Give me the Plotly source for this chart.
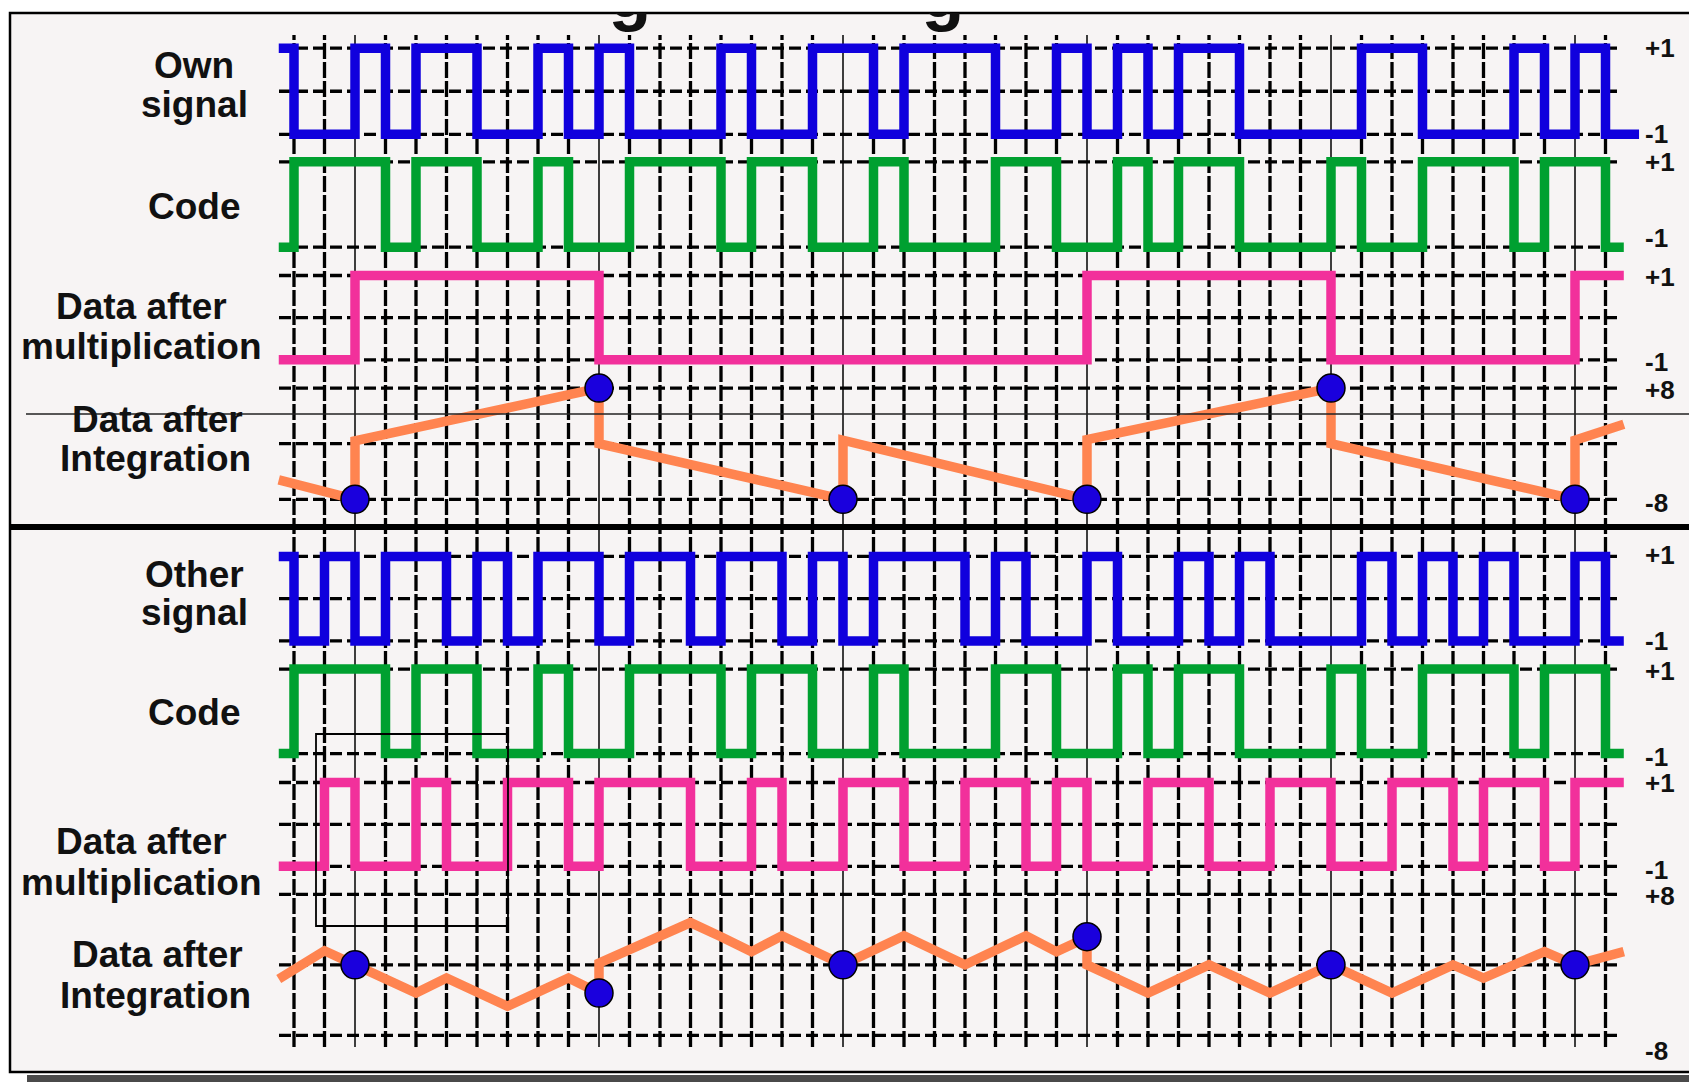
import plotly.graph_objects as go

# ---------------- data ----------------
# chip -1 is the partial lead-in chip; boundaries of chips are the grid columns 0..43
chip_start = [-0.5, 0, 1, 2, 3, 4, 5, 6, 7, 8, 9, 10, 11, 12, 13, 14, 15, 16, 17, 18, 19, 20,
              21, 22, 23, 24, 25, 26, 27, 28, 29, 30, 31, 32, 33, 34, 35, 36, 37, 38, 39, 40,
              41, 42, 43]
chip_end_own = 44.1
chip_end = 43.6

own_signal = [1, -1, -1, 1, -1, 1, 1, -1, -1, 1, -1, 1, -1, -1, -1, 1, -1, -1, 1, 1, -1, 1, 1, 1,
              -1, -1, 1, -1, 1, -1, 1, 1, -1, -1, -1, -1, 1, 1, -1, -1, -1, 1, -1, 1, -1]
code_chips = [-1, 1, 1, 1, -1, 1, 1, -1, -1, 1, -1, -1, 1, 1, 1, -1, 1, 1, -1, -1, 1, -1, -1, -1,
              1, 1, -1, -1, 1, -1, 1, 1, -1, -1, -1, 1, -1, -1, 1, 1, 1, -1, 1, 1, -1]
data_own = [-1, -1, -1, 1, 1, 1, 1, 1, 1, 1, 1, -1, -1, -1, -1, -1, -1, -1, -1, -1, -1, -1, -1,
            -1, -1, -1, -1, 1, 1, 1, 1, 1, 1, 1, 1, -1, -1, -1, -1, -1, -1, -1, -1, 1, 1]
other_signal = [1, -1, 1, -1, 1, 1, -1, 1, -1, 1, 1, -1, 1, 1, -1, 1, 1, -1, 1, -1, 1, 1, 1, -1,
                1, -1, -1, 1, -1, -1, 1, -1, 1, -1, -1, -1, 1, -1, 1, -1, 1, -1, -1, 1, -1]
data_other = [-1, -1, 1, -1, -1, 1, -1, -1, 1, 1, -1, 1, 1, 1, -1, -1, 1, -1, -1, 1, 1, -1, -1, 1,
              1, -1, 1, -1, -1, 1, 1, -1, -1, 1, 1, -1, -1, 1, 1, -1, 1, 1, -1, 1, 1]

integ_own_x = [-0.5, 2, 2, 10, 10, 18, 18, 26, 26, 34, 34, 42, 42, 43.6]
integ_own_y = [-5.2, -8, 0.4, 8, 0, -8, 0.5, -8, 0.6, 8, 0, -8, 0.5, 2.8]
integ_other_x = [-0.5, 1, 2, 4, 5, 7, 9, 10, 10, 13, 14, 15, 16, 18, 20, 22, 24, 25, 26, 26,
                 28, 30, 32, 34, 36, 38, 39, 41, 42, 43.6]
integ_other_y = [-1.6, 1.6, 0, -3.2, -1.5, -4.7, -1.5, -3.2, 0.2, 4.8, 3.2, 1.5, 3.3, 0, 3.3, 0,
                 3.3, 1.5, 3.1, 0, -3.2, 0, -3.2, 0, -3.2, 0, -1.5, 1.5, 0, 1.5]
bit_edges = [2, 10, 18, 26, 34, 42]
sample_own = [-8, 8, -8, -8, 8, -8]
sample_other = [0, -3.2, 0, 3.2, 0, 0]

labels_top = [["Own", "signal"], ["Code"], ["Data after", "multiplication"], ["Data after", "Integration"]]
labels_bottom = [["Other", "signal"], ["Code"], ["Data after", "multiplication"], ["Data after", "Integration"]]
level_text = [["+1", "-1"], ["+1", "-1"], ["+1", "-1"], ["+8", "-8"],
              ["+1", "-1"], ["+1", "-1"], ["+1", "-1"], ["+8", "-8"]]
title_fragments = ["g", "g"]

# ---------------- layout constants ----------------
W, H = 1697, 1082              # window
OFF = 8                        # page body margin
FW, FH = W - OFF, H - OFF      # figure size
X0, CW = 294.0, 30.5           # window pixel of grid column 0, chip width in px


def kx(px):
    return (px - X0) / CW


def fx(px):
    return (px - OFF) / FW


def fy(px):
    return 1 - (px - OFF) / FH


BLUE, GREEN, PINK, ORANGE, DOT = "#1000DD", "#00A030", "#F2309B", "#FF8450", "#1A00DD"
INK = "#111111"
FONT = "Liberation Sans, Arial, sans-serif"
LW = 9.5

# axis, hi value, px of hi, lo value, px of lo, dashed levels, label px (hi, lo)
ROWS = [
    ("y", 1, 48.2, -1, 134.3, [1, 0, -1], (48, 134)),
    ("y2", 1, 161.8, -1, 247.2, [1, -1], (162, 238)),
    ("y3", 1, 275.5, -1, 359.8, [1, 0, -1], (277, 362)),
    ("y4", 8, 388.1, -8, 499.3, [8, 0, -8], (390, 503)),
    ("y5", 1, 556.4, -1, 640.9, [1, 0, -1], (555, 641)),
    ("y6", 1, 669.1, -1, 753.6, [1, -1], (671, 757)),
    ("y7", 1, 782.5, -1, 866.3, [1, 0, -1], (783, 870)),
    ("y8", 8, 894.4, -8, 1035.3, [8, 0, -8], (896, 1051)),
]
PAD = 14

axes = {}
shapes = []
annots = []

# box background and frame
shapes.append(dict(type="rect", xref="paper", yref="paper", x0=fx(10), x1=fx(W + 20),
                   y0=fy(1072), y1=fy(13), fillcolor="#F7F4F4",
                   line=dict(color="black", width=2.5), layer="below"))
shapes.append(dict(type="rect", xref="paper", yref="paper", x0=fx(27), x1=1, y0=0, y1=fy(1075),
                   fillcolor="#4A4A4A", line=dict(width=0), layer="below"))

# vertical grid columns
for k in range(0, 44):
    if k in bit_edges:
        ln = dict(color="black", width=1.5)
    else:
        ln = dict(color="black", width=3.3, dash="16px,3px")
    shapes.append(dict(type="line", xref="x", yref="paper", x0=k, x1=k, y0=fy(1047), y1=fy(35),
                       line=ln, layer="below"))

for ax, vh, ph, vl, pl, levels, lab_px in ROWS:
    s = (vh - vl) / (pl - ph)
    key = "yaxis" if ax == "y" else "yaxis" + ax[1:]
    axes[key] = dict(domain=[fy(pl + PAD), fy(ph - PAD)], range=[vl - PAD * s, vh + PAD * s],
                     visible=False, anchor="x", fixedrange=True)
    for v in levels:
        shapes.append(dict(type="line", xref="x", yref=ax, x0=kx(279), x1=kx(1622), y0=v, y1=v,
                           line=dict(color="black", width=3.3, dash="12px,5px"), layer="below"))

for i, (ax, vh, ph, vl, pl, levels, lab_px) in enumerate(ROWS):
    for txt, v, line_px, lpx in ((level_text[i][0], vh, ph, lab_px[0]), (level_text[i][1], vl, pl, lab_px[1])):
        annots.append(dict(text=txt, xref="paper", yref=ax, x=fx(1643), y=v, xanchor="left",
                           yanchor="middle", yshift=line_px - lpx, showarrow=False,
                           font=dict(family=FONT, size=26, color=INK, weight="bold")))

# separators
shapes.append(dict(type="line", xref="paper", yref="paper", x0=fx(10), x1=1, y0=fy(527), y1=fy(527),
                   line=dict(color="black", width=6), layer="above"))
shapes.append(dict(type="line", xref="paper", yref="paper", x0=fx(26), x1=1, y0=fy(414), y1=fy(414),
                   line=dict(color="#222222", width=1.3), layer="above"))
# highlight box in the lower panel
shapes.append(dict(type="rect", xref="x", yref="paper", x0=kx(316), x1=kx(508), y0=fy(926), y1=fy(734),
                   line=dict(color="black", width=1.8), fillcolor="rgba(0,0,0,0)", layer="above"))

# left row labels (cap-centre px positions)
label_pos_top = [[(194, 65.5), (194, 105)], [(194, 207)], [(141, 307), (141, 346.5)], [(157, 419), (155, 458.6)]]
label_pos_bot = [[(194, 574), (194, 612.5)], [(194, 712)], [(141, 841.5), (141, 882)], [(157, 954), (155, 995.6)]]
for labs, poss in ((labels_top, label_pos_top), (labels_bottom, label_pos_bot)):
    for lines, pp in zip(labs, poss):
        for txt, (xp, yp) in zip(lines, pp):
            annots.append(dict(text=txt, xref="paper", yref="paper", x=fx(xp), y=fy(yp),
                               xanchor="center", yanchor="middle", showarrow=False,
                               font=dict(family=FONT, size=37, color=INK, weight="bold")))

fig = go.Figure()


def step(vals, ax, color, end):
    fig.add_trace(go.Scatter(x=chip_start + [end], y=vals + [vals[-1]], mode="lines",
                             line=dict(color=color, width=LW, shape="hv"),
                             xaxis="x", yaxis=ax, hoverinfo="skip", showlegend=False))


step(own_signal, "y", BLUE, chip_end_own)
step(code_chips, "y2", GREEN, chip_end)
step(data_own, "y3", PINK, chip_end)
fig.add_trace(go.Scatter(x=integ_own_x, y=integ_own_y, mode="lines", line=dict(color=ORANGE, width=LW),
                         xaxis="x", yaxis="y4", hoverinfo="skip", showlegend=False))
fig.add_trace(go.Scatter(x=bit_edges, y=sample_own, mode="markers", cliponaxis=False,
                         marker=dict(size=28, color=DOT, line=dict(color="black", width=1.5)),
                         xaxis="x", yaxis="y4", hoverinfo="skip", showlegend=False))
step(other_signal, "y5", BLUE, chip_end)
step(code_chips, "y6", GREEN, chip_end)
step(data_other, "y7", PINK, chip_end)
fig.add_trace(go.Scatter(x=integ_other_x, y=integ_other_y, mode="lines", line=dict(color=ORANGE, width=LW),
                         xaxis="x", yaxis="y8", hoverinfo="skip", showlegend=False))
fig.add_trace(go.Scatter(x=bit_edges, y=sample_other, mode="markers", cliponaxis=False,
                         marker=dict(size=28, color=DOT, line=dict(color="black", width=1.5)),
                         xaxis="x", yaxis="y8", hoverinfo="skip", showlegend=False))

# clipped fragments of a title that lies above the frame
axes["yaxis9"] = dict(domain=[fy(60), fy(13)], range=[60, 13], visible=False, anchor="x", fixedrange=True)
fig.add_trace(go.Scatter(x=[kx(630), kx(943)], y=[-1, -1], mode="text", text=title_fragments,
                         textposition="middle center", cliponaxis=True,
                         textfont=dict(family=FONT, size=70, color=INK, weight="bold"),
                         xaxis="x", yaxis="y9", hoverinfo="skip", showlegend=False))

fig.update_layout(width=FW, height=FH, margin=dict(l=0, r=0, t=0, b=0),
                  paper_bgcolor="white", plot_bgcolor="rgba(0,0,0,0)", showlegend=False,
                  xaxis=dict(domain=[0, 1], range=[kx(OFF), kx(W)], visible=False, fixedrange=True, anchor="y"),
                  shapes=shapes, annotations=annots, **axes)

fig.write_html("out.html")
